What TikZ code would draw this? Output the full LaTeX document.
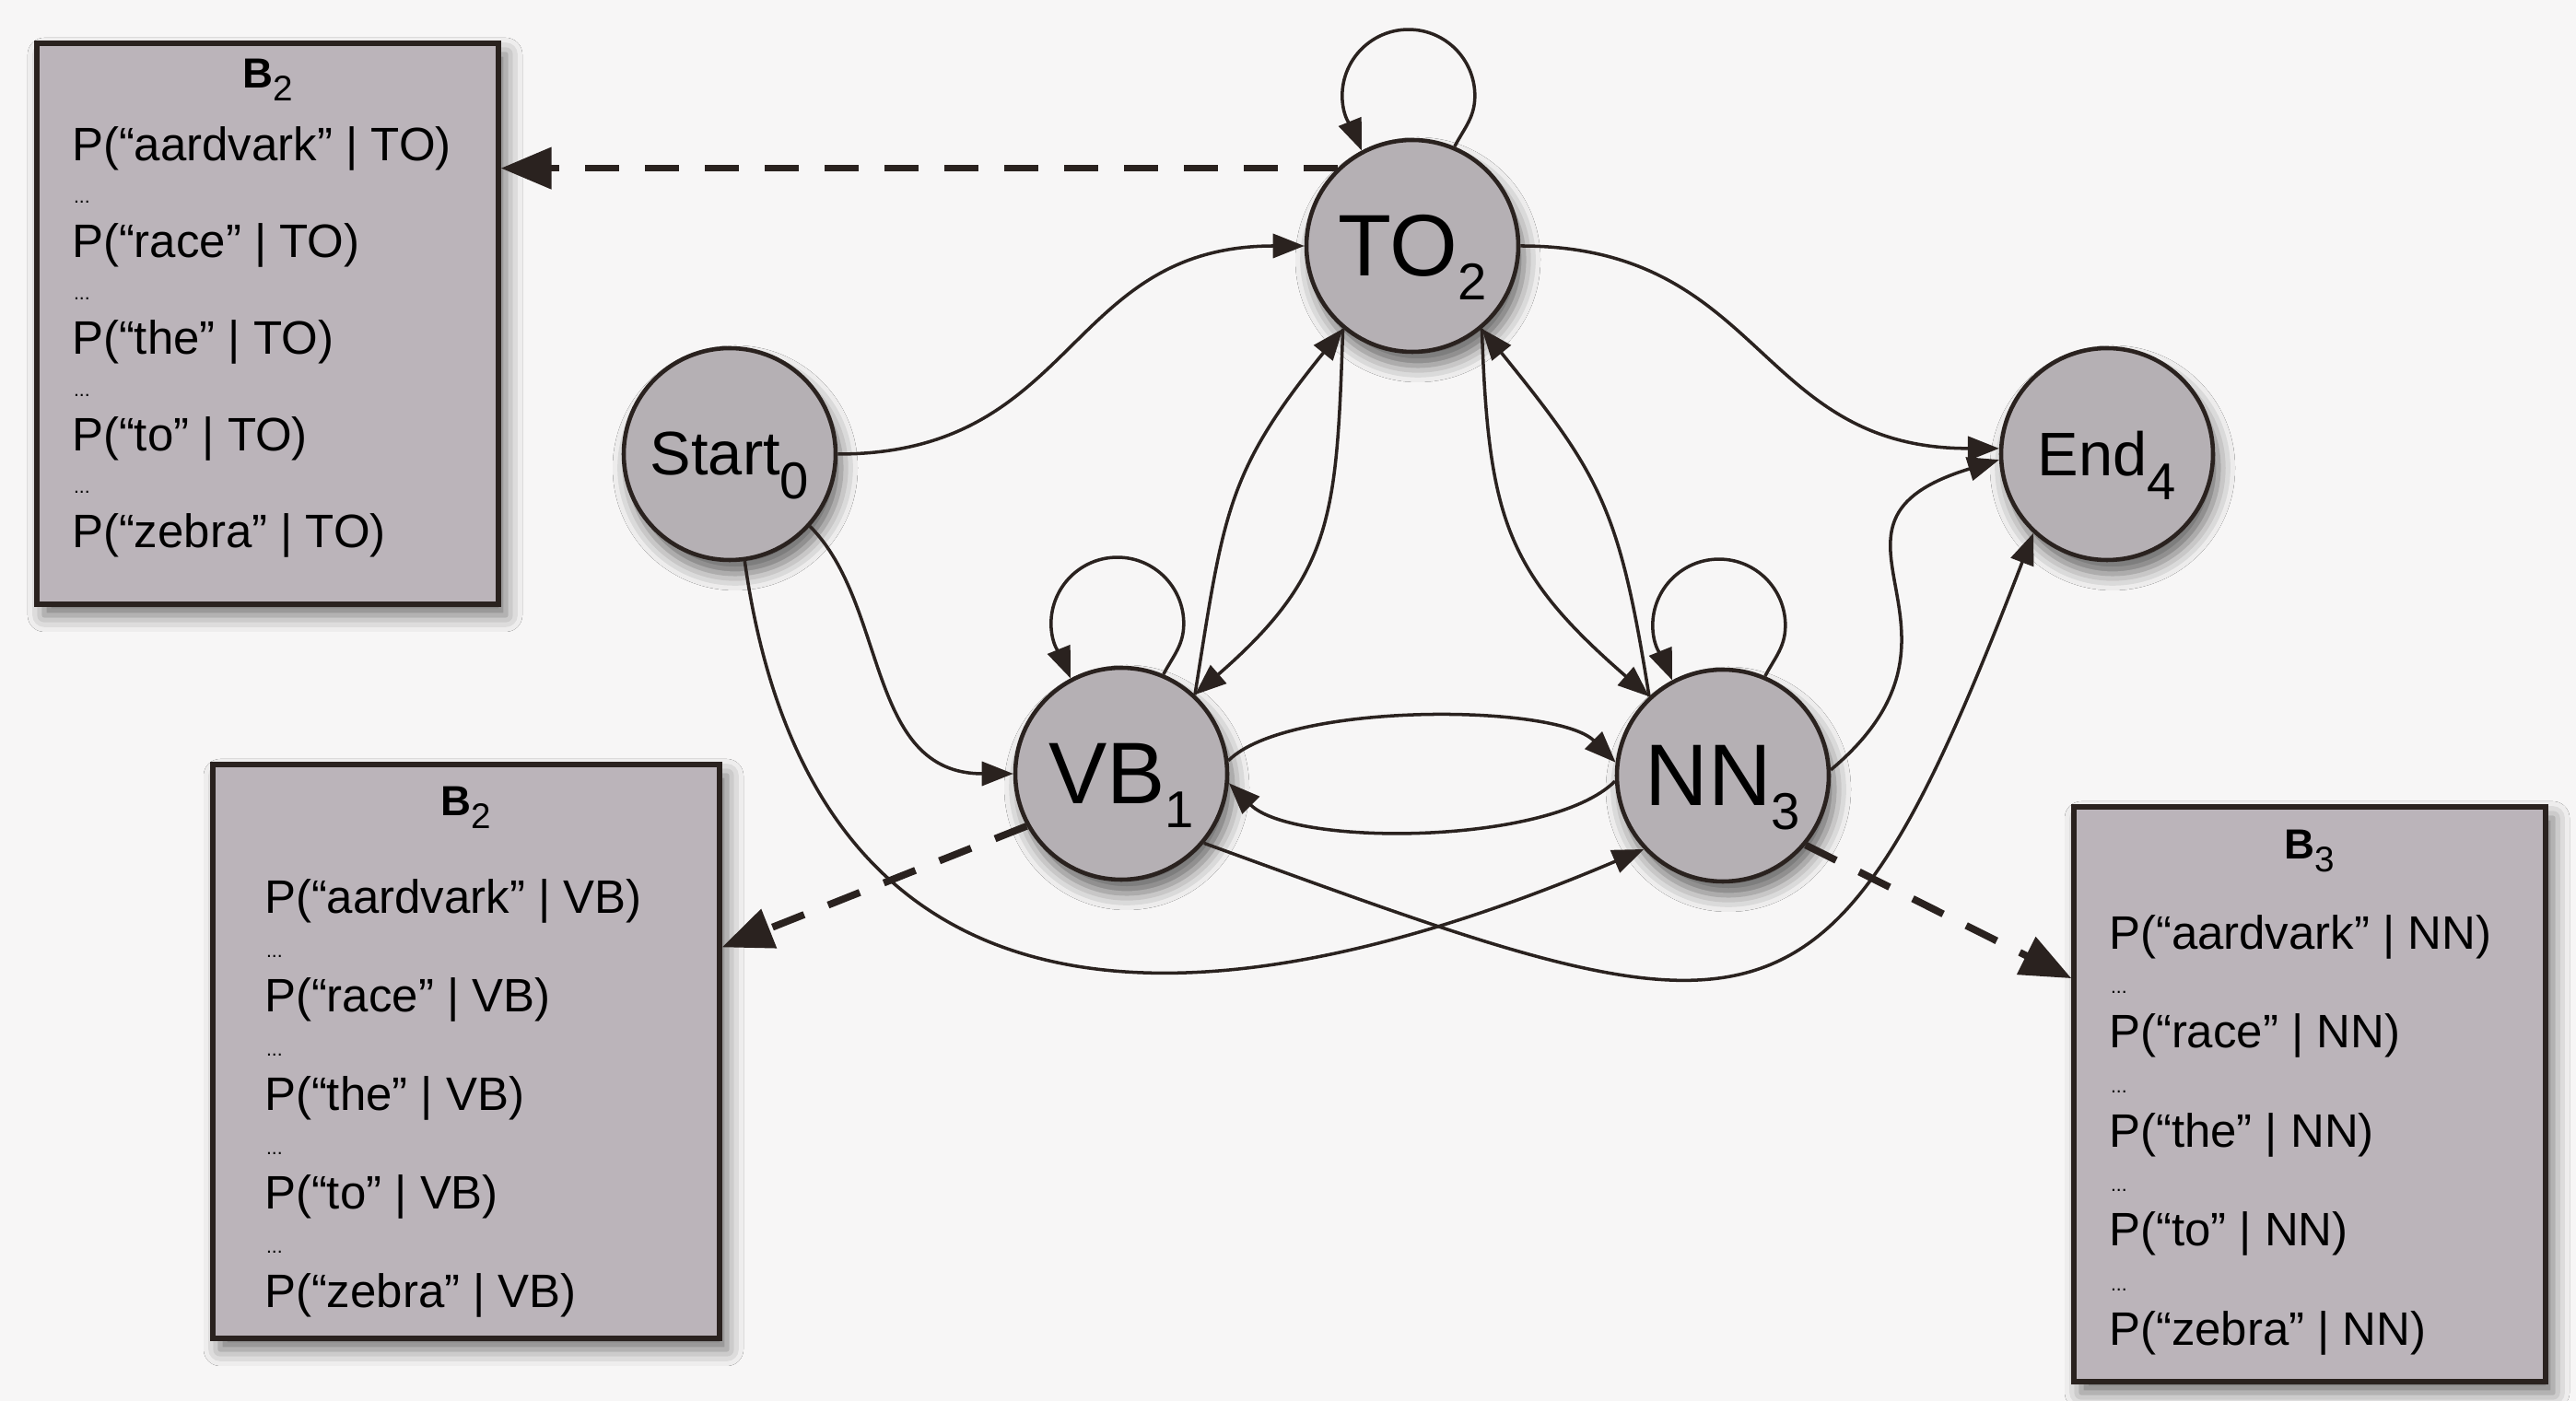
\documentclass[tikz,border=0pt]{standalone}
\usepackage{fontspec}
\setmainfont{Liberation Sans}
\usetikzlibrary{arrows.meta,calc,shadows.blur}

\definecolor{ink}{HTML}{2A221F}
\definecolor{statefill}{HTML}{B5B0B4}
\definecolor{boxfill}{HTML}{BBB4BA}
\definecolor{paper}{HTML}{F7F6F6}

% state label with a lowered index
\newcommand\statelbl[2]{#1\smash{\raisebox{-7.3pt}{\fontsize{16}{16}\selectfont #2}}}
% box heading B with index
\newcommand\boxhead[1]{{\bfseries B}\raisebox{-4pt}{\fontsize{11}{11}\selectfont #1}}

\begin{document}
\begin{tikzpicture}[
  state/.style={circle, draw=ink, line width=1.3pt, fill=statefill,
    minimum size=2.3cm, inner sep=0pt,
    blur shadow={shadow xshift=0.6mm, shadow yshift=-1.5mm,
      shadow blur radius=1.8mm, shadow opacity=60}},
  bigstate/.style={state, font=\fontsize{27}{27}\selectfont},
  smallstate/.style={state, font=\fontsize{19}{19}\selectfont},
  probbox/.style={rectangle, draw=ink, line width=1.5pt, fill=boxfill,
    inner sep=0pt,
    blur shadow={shadow xshift=0.8mm, shadow yshift=-1.2mm,
      shadow blur radius=1.8mm, shadow opacity=55}},
  boxtitle/.style={inner sep=0pt, font=\fontsize{13}{13}\selectfont},
  probline/.style={anchor=west, inner sep=0pt, font=\fontsize{14.5}{14.5}\selectfont},
  gapdots/.style={anchor=south west, inner sep=0pt, font=\fontsize{6}{6}\selectfont},
  trans/.style={draw=ink, line width=1pt, -{Triangle[length=3.4mm,width=2.6mm]}},
  emit/.style={draw=ink, line width=2.2pt, dash pattern=on 3.7mm off 2.8mm,
    -{Triangle[length=5.5mm,width=4.4mm]}},
]
% page
\fill[paper] (0,0) rectangle (27.96,15.21);
\useasboundingbox (0,0) rectangle (27.96,15.21);

% emission probability boxes
\node[probbox, minimum width=5.01cm, minimum height=6.09cm] (bto) at (2.905,11.695) {};
\node[probbox, minimum width=5.50cm, minimum height=6.23cm] (bvb) at (5.06,3.795) {};
\node[probbox, minimum width=5.12cm, minimum height=6.24cm] (bnn) at (25.07,3.33) {};

\node[boxtitle] (bto-t) at ($(bto.north)+(0,-0.42)$) {\boxhead{2}};
\node[boxtitle] (bvb-t) at ($(bvb.north)+(0,-0.49)$) {\boxhead{2}};
\node[boxtitle] (bnn-t) at ($(bnn.north)+(0,-0.51)$) {\boxhead{3}};

\foreach \w [count=\i from 0] in {aardvark,race,the,to,zebra} {
  \node[probline] (bto-\i) at ($(bto.north west)+(0.40,-1.17-1.05*\i)$) {P(“\w” | TO)};
  \node[probline] (bvb-\i) at ($(bvb.north west)+(0.58,-1.51-1.07*\i)$) {P(“\w” | VB)};
  \node[probline] (bnn-\i) at ($(bnn.north west)+(0.40,-1.44-1.074*\i)$) {P(“\w” | NN)};
}
\foreach \i in {1,...,4} {
  \node[gapdots] (bto-d\i) at ($(bto-\i.north west)+(0.02,0.2)$) {...};
  \node[gapdots] (bvb-d\i) at ($(bvb-\i.north west)+(0.02,0.2)$) {...};
  \node[gapdots] (bnn-d\i) at ($(bnn-\i.north west)+(0.02,0.2)$) {...};
}

% hidden states
\node[smallstate] (start) at (7.92,10.28) {\statelbl{Start}{0}};
\node[bigstate]   (sto)   at (15.33,12.54) {\statelbl{TO}{2}};
\node[bigstate]   (svb)   at (12.17,6.81) {\statelbl{VB}{1}};
\node[bigstate]   (snn)   at (18.70,6.79) {\statelbl{NN}{3}};
\node[smallstate] (send)  at (22.87,10.28) {\statelbl{End}{4}};

% transitions
\draw[trans] (start.east) to[out=0,in=180,looseness=1.2] (sto.west);
\draw[trans] (sto.east) to[out=0,in=180,looseness=1.2] (send.177);
\draw[trans] (start.-42) .. controls +(-45:1.2) and +(180:1.6) .. (svb.west);
\draw[trans] (start.278) .. controls +(-82:5) and +(203:5.8) .. (snn.223);
\draw[trans] (svb.-40) .. controls +(-20:6.5) and +(249:6.3) .. (send.227);
\draw[trans] (snn.3) to[out=40,in=197,looseness=1.6] (send.183);
\draw[trans] (svb.7) to[out=45,in=135,looseness=0.55] (snn.173);
\draw[trans] (snn.183) to[out=225,in=-45,looseness=0.6] (svb.-5);
\draw[trans] (svb.47) to[out=81,in=231,looseness=1.2] (sto.230);
\draw[trans] (sto.230) to[out=268,in=41,looseness=1.2] (svb.47);
\draw[trans] (snn.133) to[out=99,in=309,looseness=1.2] (sto.310);
\draw[trans] (sto.310) to[out=272,in=139,looseness=1.2] (snn.133);

% self loops: short rise, round top, back down into the state
\foreach \s in {sto,svb,snn}
  \draw[trans] (\s.67) to[out=62,in=-90] ++(0.22,0.55)
    arc[start angle=0, end angle=180, radius=0.72]
    to[out=-90,in=112] (\s.118);

% emissions
\draw[emit] (sto.134) -- (sto.134 -| bto.east);
\draw[emit] (svb.209) -- ($(bvb.north east)!0.32!(bvb.south east)$);
\draw[emit] (snn.-40) -- ($(bnn.north west)!0.30!(bnn.south west)$);
\end{tikzpicture}
\end{document}
